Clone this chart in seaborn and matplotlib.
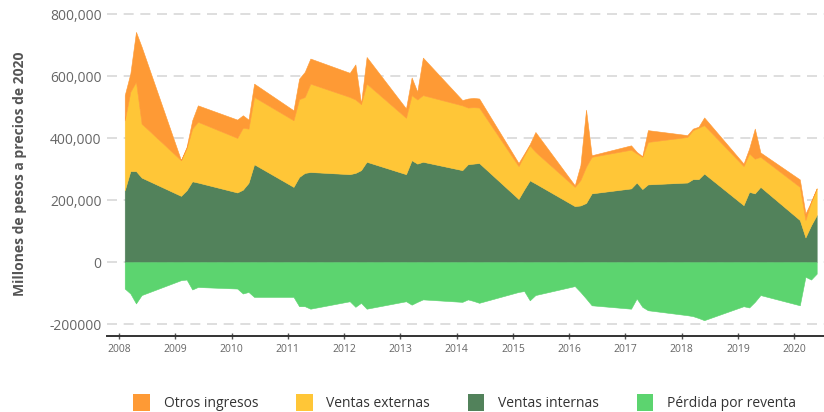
import matplotlib
matplotlib.use("Agg")
import matplotlib.pyplot as plt
from matplotlib.patches import Patch
from matplotlib.ticker import FixedLocator
import seaborn as sns

# periodos (años fraccionales) y valores en miles de millones de pesos
periodos = [
    2008.1, 2008.2, 2008.3, 2008.4, 2009.1, 2009.2, 2009.3, 2009.4,
    2010.1, 2010.2, 2010.3, 2010.4, 2011.1, 2011.2, 2011.3, 2011.4,
    2012.1, 2012.2, 2012.3, 2012.4, 2013.1, 2013.2, 2013.3, 2013.4,
    2014.1, 2014.2, 2014.3, 2014.4, 2015.1, 2015.2, 2015.3, 2015.4,
    2016.1, 2016.2, 2016.3, 2016.4, 2017.1, 2017.2, 2017.3, 2017.4,
    2018.1, 2018.2, 2018.3, 2018.4, 2019.1, 2019.2, 2019.3, 2019.4,
    2020.1, 2020.2, 2020.3, 2020.4,
]
ventas_internas = [
    232, 294, 294, 273, 214, 232, 261, 257,
    225, 234, 256, 316, 243, 275, 288, 291,
    284, 288, 297, 324, 284, 329, 318, 324,
    297, 316, 318, 320, 204, 235, 264, 254,
    181, 183, 191, 222, 238, 257, 236, 251,
    257, 268, 268, 286, 184, 227, 222, 243,
    136, 80, 119, 152,
]
ventas_externas = [
    226, 256, 288, 174, 115, 136, 170, 196,
    176, 200, 175, 217, 215, 251, 245, 285,
    249, 237, 213, 252, 182, 210, 207, 215,
    209, 183, 182, 179, 106, 110, 113, 102,
    62, 82, 117, 118, 125, 94, 104, 137,
    147, 158, 166, 156, 126, 124, 112, 97,
    107, 56, 76, 86,
]
otros_ingresos = [
    81, 59, 161, 248, 0, 4, 27, 53,
    59, 40, 29, 43, 32, 66, 81, 81,
    78, 113, 2, 86, 30, 57, 25, 121,
    17, 29, 30, 29, 10, 5, 4, 64,
    5, 48, 184, 5, 14, 5, 2, 38,
    6, 5, 3, 25, 8, 16, 97, 14,
    24, 21, 0, 0,
]
perdida_reventa = [
    -85, -101, -133, -106, -58, -56, -88, -80,
    -85, -101, -96, -112, -112, -142, -142, -150,
    -126, -144, -131, -150, -126, -137, -128, -120,
    -128, -120, -125, -131, -96, -93, -123, -106,
    -77, -96, -117, -139, -150, -117, -144, -155,
    -171, -174, -180, -187, -142, -146, -128, -106,
    -139, -47, -56, -37,
]

anios = list(range(2008, 2021))
yticks = [-200000, 0, 200000, 400000, 600000, 800000]
ytick_labels = ["-200000", "0", "200,000", "400,000", "600,000", "800,000"]

nombres = ["Otros ingresos", "Ventas externas", "Ventas internas", "Pérdida por reventa"]
colores = ["#fe9a35", "#ffc637", "#52825b", "#5cd46f"]


def main():
    sns.set_theme(style="white")
    plt.rcParams["font.family"] = ["Open Sans", "DejaVu Sans"]

    fig = plt.figure(figsize=(8.24, 4.12), dpi=100)
    ax = fig.add_axes([0.13, 0.184, 0.87, 0.789])

    escala = 1000
    internas = [v * escala for v in ventas_internas]
    externas = [v * escala for v in ventas_externas]
    otros = [v * escala for v in otros_ingresos]
    perdida = [v * escala for v in perdida_reventa]

    ax.stackplot(
        periodos, internas, externas, otros,
        colors=[colores[2], colores[1], colores[0]],
        edgecolor="face", linewidth=0.4, zorder=2,
    )
    ax.fill_between(periodos, perdida, 0, color=colores[3],
                    edgecolor="face", linewidth=0.4, zorder=2)

    ax.set_xlim(2007.787, 2020.53)
    ax.set_ylim(-238700, 810000)

    ax.yaxis.set_major_locator(FixedLocator(yticks))
    ax.set_yticklabels(ytick_labels)
    ax.set_xticks(anios)
    ax.set_xticklabels([str(a) for a in anios])

    ax.grid(axis="y", color="#d8d8d8", linestyle=(0, (6, 4)), linewidth=1.2, zorder=0)
    ax.grid(axis="x", visible=False)

    for s in ["top", "right", "left"]:
        ax.spines[s].set_visible(False)
    ax.spines["bottom"].set_color("#333333")
    ax.spines["bottom"].set_linewidth(1.4)

    ax.tick_params(axis="y", length=0, pad=4, labelsize=10, labelcolor="#666666")
    ax.tick_params(axis="x", bottom=True, length=5, width=1, color="#555555",
                   direction="inout", pad=3, labelsize=7.5, labelcolor="#666666")

    ax.set_ylabel("Millones de pesos a precios de 2020", fontsize=10,
                  fontweight="bold", color="#555555", labelpad=16)

    handles = [Patch(facecolor=c, edgecolor="none") for c in colores]
    fig.legend(handles, nombres, loc="lower center", bbox_to_anchor=(0.564, -0.027),
               ncol=4, frameon=False, fontsize=10, handlelength=1.2, handleheight=1.5,
               handletextpad=1.0, columnspacing=2.7, labelcolor="#333333")

    fig.savefig("out.png", dpi=100)
    plt.close(fig)


if __name__ == "__main__":
    main()
